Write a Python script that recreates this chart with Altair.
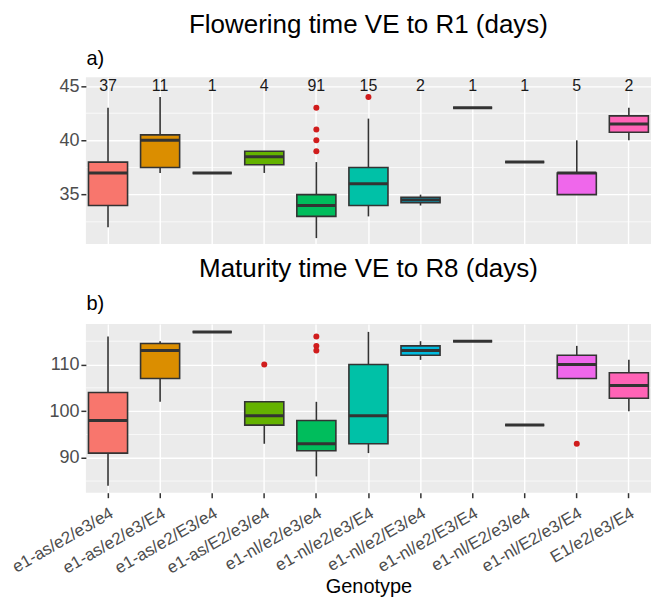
import altair as alt
import pandas as pd

genotypes = ["e1-as/e2/e3/e4", "e1-as/e2/e3/E4", "e1-as/e2/E3/e4", "e1-as/E2/e3/e4",
             "e1-nl/e2/e3/e4", "e1-nl/e2/e3/E4", "e1-nl/e2/E3/e4", "e1-nl/e2/E3/E4",
             "e1-nl/E2/e3/e4", "e1-nl/E2/e3/E4", "E1/e2/e3/E4"]
colors = ["#F8766D", "#DB8E00", "#AEA200", "#64B200", "#00BD5C", "#00C1A7",
          "#00BADE", "#00A6FF", "#B385FF", "#EF67EB", "#FF63B6"]
counts = [37, 11, 1, 4, 91, 15, 2, 1, 1, 5, 2]

# a) Flowering time VE to R1 (days)
flo_lo = [32, 37, 37, 37, 31, 33, 34, 43, 38, 35, 40]
flo_q1 = [34, 37.5, 37, 37.75, 33, 34, 34.25, 43, 38, 35, 40.75]
flo_med = [37, 40, 37, 38.5, 34, 36, 34.5, 43, 38, 37, 41.5]
flo_q3 = [38, 40.5, 37, 39, 35, 37.5, 34.75, 43, 38, 37, 42.25]
flo_hi = [43, 44, 37, 39, 38, 42, 35, 43, 38, 40, 43]
flo_out_geno = ["e1-nl/e2/e3/e4", "e1-nl/e2/e3/e4", "e1-nl/e2/e3/e4", "e1-nl/e2/e3/e4",
                "e1-nl/e2/e3/E4"]
flo_out_val = [43, 41, 40, 39, 44]
flo_major = [35, 40, 45]
flo_minor = [32.5, 37.5, 42.5]

# b) Maturity time VE to R8 (days)
mat_lo = [84, 102, 117, 93, 86, 91, 111, 115, 97, 107, 100]
mat_q1 = [91, 107, 117, 97, 91.5, 93, 112, 115, 97, 107, 102.75]
mat_med = [98, 113, 117, 99, 93, 99, 113, 115, 97, 110, 105.5]
mat_q3 = [104, 114.5, 117, 102, 98, 110, 114, 115, 97, 112, 108.25]
mat_hi = [116, 115, 117, 102, 102, 117, 115, 115, 97, 114, 111]
mat_out_geno = ["e1-as/E2/e3/e4", "e1-nl/e2/e3/e4", "e1-nl/e2/e3/e4", "e1-nl/e2/e3/e4",
                "e1-nl/E2/e3/E4"]
mat_out_val = [110, 116, 114, 113, 93]
mat_major = [90, 100, 110]
mat_minor = [85, 95, 105, 115]

FONT = "Liberation Sans"
DARK = "#333333"


def make_panel(lo, q1, med, q3, hi, out_geno, out_val, ydomain, major, minor,
               width, height, po, title_text, tag, tag_y, title_offset,
               bottom_axis, show_counts):
    stats = pd.DataFrame({"geno": genotypes, "lo": lo, "q1": q1, "med": med,
                          "q3": q3, "hi": hi, "n": counts})
    outl = pd.DataFrame({"geno": out_geno, "val": out_val})
    minor_df = pd.DataFrame({"v": minor})
    step = width / (len(genotypes) - 0.25 + 2 * po)
    bw = step * 0.75

    xscale = alt.Scale(domain=genotypes, paddingInner=0.25, paddingOuter=po)
    cscale = alt.Scale(domain=genotypes, range=colors)
    yscale = alt.Scale(domain=ydomain, nice=False, zero=False)

    if bottom_axis:
        xaxis = alt.Axis(title="Genotype", labelAngle=-30, labelAlign="right",
                         labelBaseline="top", labelFontSize=17, labelColor="#4D4D4D",
                         labelPadding=7, ticks=True, tickColor=DARK, tickSize=5,
                         tickWidth=1.5, domain=False, grid=True, gridColor="white",
                         gridWidth=1.4, titleFontSize=20, titleFontWeight="normal",
                         titleColor="black", titlePadding=0)
    else:
        xaxis = alt.Axis(title=None, labels=False, ticks=False, domain=False,
                         grid=True, gridColor="white", gridWidth=1.4)

    yaxis = alt.Axis(values=major, format="d", gridColor="white", gridWidth=1.4,
                     tickColor=DARK, tickSize=5, tickWidth=1.5,
                     labelFontSize=18, labelColor="#4D4D4D", labelPadding=2,
                     domain=False, title=tag, titleAngle=0, titleX=0, titleY=tag_y,
                     titleAlign="left", titleBaseline="alphabetic", titleFontSize=20,
                     titleFontWeight="normal", titleColor="black")

    grid_minor = alt.Chart(minor_df).mark_rule(color="white", strokeWidth=0.7).encode(
        y=alt.Y("v:Q", scale=yscale, axis=yaxis))
    base = alt.Chart(stats)
    whisk = base.mark_rule(color=DARK, strokeWidth=1.6).encode(
        x=alt.X("geno:N", scale=xscale, axis=xaxis),
        y="lo:Q", y2="hi:Q")
    box = base.mark_bar(stroke=DARK, strokeWidth=1.6).encode(
        x="geno:N", y="q1:Q", y2="q3:Q",
        color=alt.Color("geno:N", scale=cscale, legend=None))
    medl = base.mark_tick(color=DARK, thickness=3, size=bw, opacity=1).encode(
        x="geno:N", y="med:Q")
    outp = alt.Chart(outl).mark_circle(color="#D01C1C", size=36, opacity=1).encode(
        x="geno:N", y="val:Q")
    layers = [grid_minor, whisk, box, medl, outp]
    if show_counts:
        txt = base.mark_text(fontSize=16, color="#1A1A1A", baseline="middle",
                             font=FONT).encode(
            x="geno:N", y=alt.datum(45), text="n:Q")
        layers.append(txt)
    return alt.layer(*layers).properties(
        width=width, height=height,
        title=alt.Title(title_text, fontSize=26, font=FONT, fontWeight="normal",
                        anchor="middle", frame="group", color="black",
                        offset=title_offset))


pa = make_panel(flo_lo, flo_q1, flo_med, flo_q3, flo_hi, flo_out_geno, flo_out_val,
                [30.45, 45.8], flo_major, flo_minor,
                566, 167, 0.05, "Flowering time VE to R1 (days)", "a)", -13, 10,
                False, True)
pb = make_panel(mat_lo, mat_q1, mat_med, mat_q3, mat_hi, mat_out_geno, mat_out_val,
                [82.5, 118.7], mat_major, mat_minor,
                566, 169, 0.05, "Maturity time VE to R8 (days)", "b)", -14, 12,
                True, False)

chart = alt.vconcat(pa, pb, spacing=12).properties(
    padding={"left": 0, "top": 4, "right": 0, "bottom": 0},
    background="white"
).configure(font=FONT).configure_view(fill="#EBEBEB", stroke=None)

chart.save("out.html", embed_options={"renderer": "svg", "actions": False})
